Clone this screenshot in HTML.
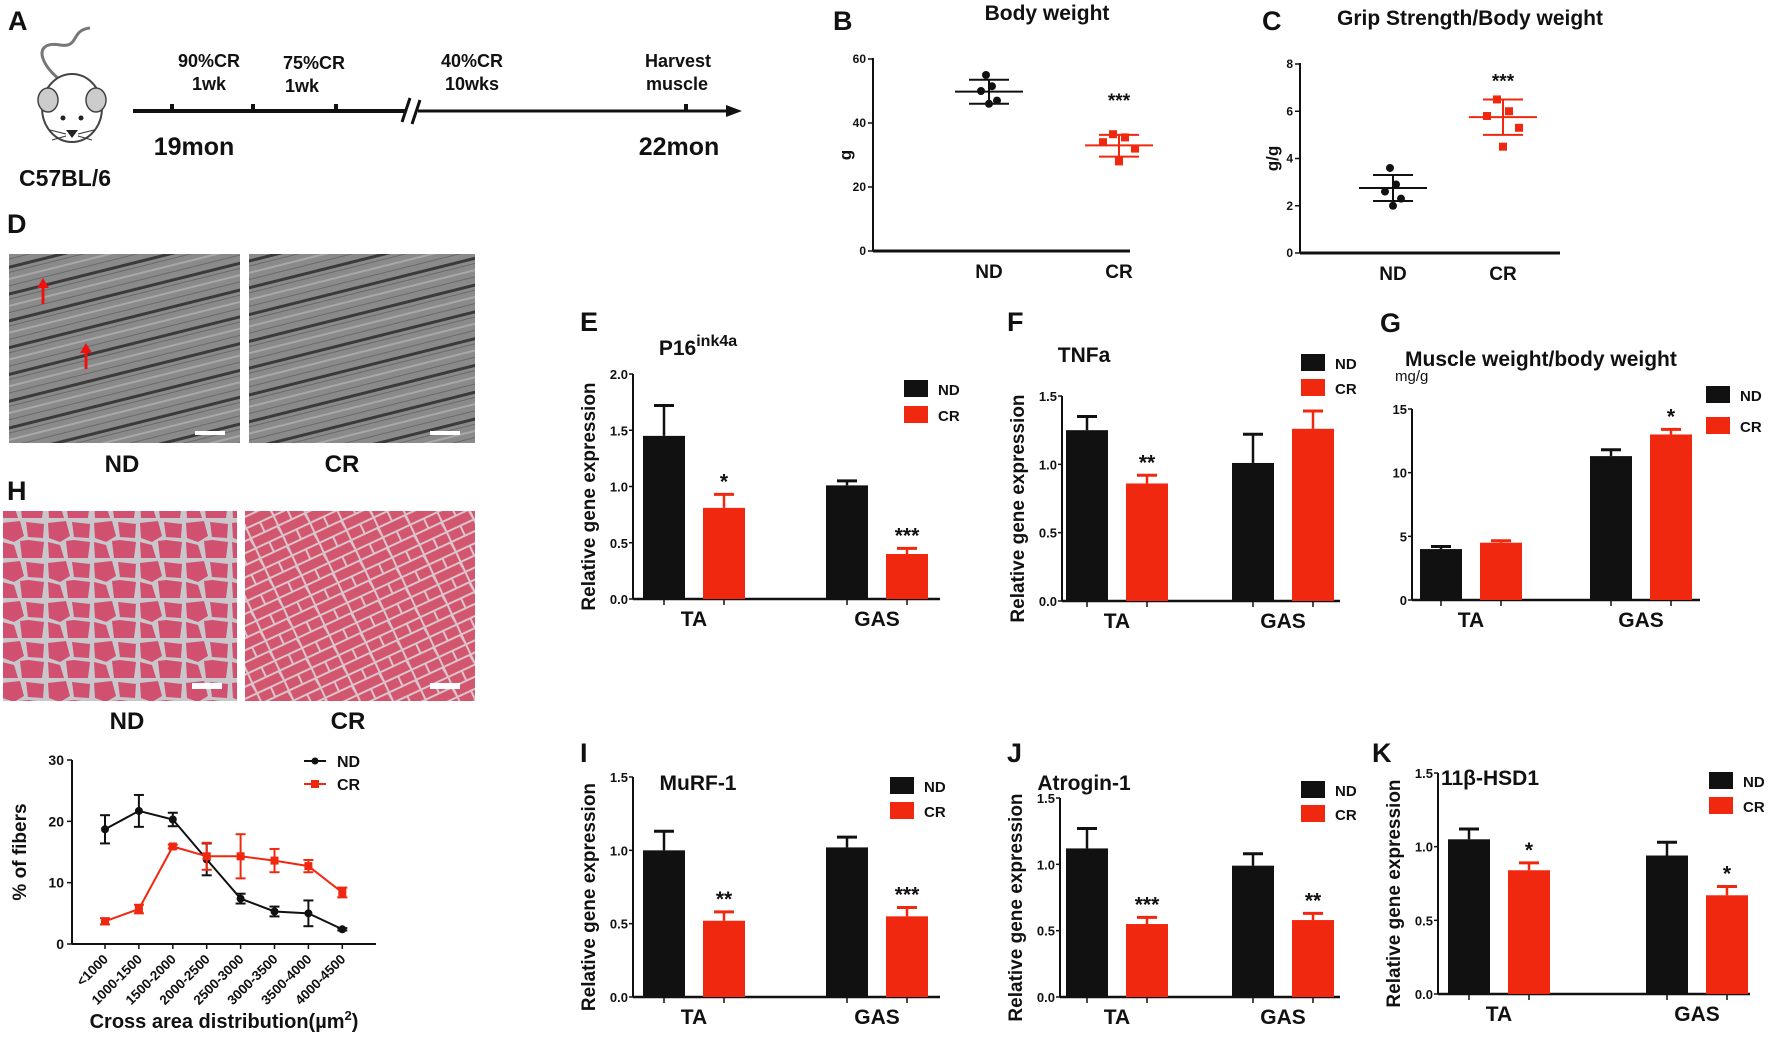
<!DOCTYPE html>
<html><head><meta charset="utf-8"><style>
body{margin:0;background:#fff}
svg{display:block;font-family:"Liberation Sans",sans-serif;font-weight:bold}
</style></head><body>
<svg id="fig" width="1772" height="1037" viewBox="0 0 1772 1037" xmlns="http://www.w3.org/2000/svg">
<defs>
<pattern id="em" patternUnits="userSpaceOnUse" width="40" height="26" patternTransform="rotate(-14)">
<rect width="40" height="26" fill="#8a8a8a"/>
<rect y="0" width="40" height="3" fill="#3a3a3a"/>
<rect y="12" width="40" height="2" fill="#a8a8a8"/>
<rect y="6" width="40" height="1" fill="#6a6a6a"/>
<rect y="19" width="40" height="1" fill="#6a6a6a"/>
</pattern>
<pattern id="he1" patternUnits="userSpaceOnUse" width="46" height="40">
<rect width="46" height="40" fill="#c9c6cc"/>
<path d="M2 3 L20 1 L24 16 L14 22 L3 18Z M26 2 L44 4 L43 18 L28 17Z M2 22 L14 25 L18 38 L3 38Z M20 21 L28 20 L44 22 L42 38 L22 38Z" fill="#d1506f"/>
</pattern>
<pattern id="he2" patternUnits="userSpaceOnUse" width="30" height="22" patternTransform="rotate(-25)">
<rect width="30" height="22" fill="#dcc4cc"/>
<path d="M1 1 L28 1 L29 10 L1 10Z M1 12 L14 12 L14 21 L1 21Z M16 12 L29 12 L29 21 L16 21Z" fill="#d3566f"/>
</pattern>
</defs>
<g id="root"></g>
</svg>
<script>
// ---- Panel B: body weight ----
const bwND = [55, 51.5, 50, 47, 46];
const bwCR = [36.5, 35.5, 34, 32, 28];
const bwStats = [[49.8, 53.5, 46.0], [33.0, 36.3, 29.5]];
// ---- Panel C: grip strength ----
const gsND = [3.6, 2.9, 2.6, 2.3, 2.0];
const gsCR = [6.5, 6.0, 5.8, 5.3, 4.5];
const gsStats = [[2.75, 3.3, 2.2], [5.75, 6.5, 5.0]];
// ---- Line chart (H) ----
const fiberCats = ["<1000","1000-1500","1500-2000","2000-2500","2500-3000","3000-3500","3500-4000","4000-4500"];
const fiberND = [18.7, 21.7, 20.3, 13.8, 7.4, 5.3, 5.0, 2.4];
const fiberNDerr = [2.3, 2.6, 1.1, 2.6, 0.8, 0.8, 2.1, 0.2];
const fiberCR = [3.7, 5.7, 15.9, 14.3, 14.3, 13.6, 12.7, 8.4];
const fiberCRerr = [0.5, 0.7, 0.3, 2.2, 3.6, 1.9, 1.0, 0.8];
const fiberTicks = [0, 10, 20, 30];
// ---- Bar charts ----
const barCats = ["TA", "GAS"];
const p16ND = [1.45, 1.01], p16NDerr = [0.27, 0.04], p16CR = [0.81, 0.40], p16CRerr = [0.12, 0.05];
const p16Sig = ["*", "***"];
const tnfND = [1.25, 1.01], tnfNDerr = [0.10, 0.21], tnfCR = [0.86, 1.26], tnfCRerr = [0.06, 0.13];
const tnfSig = ["**", ""];
const mwND = [4.0, 11.3], mwNDerr = [0.2, 0.5], mwCR = [4.5, 13.0], mwCRerr = [0.15, 0.4];
const mwSig = ["", "*"];
const murND = [1.0, 1.02], murNDerr = [0.13, 0.07], murCR = [0.52, 0.55], murCRerr = [0.06, 0.06];
const murSig = ["**", "***"];
const atrND = [1.12, 0.99], atrNDerr = [0.15, 0.09], atrCR = [0.55, 0.58], atrCRerr = [0.05, 0.05];
const atrSig = ["***", "**"];
const hsdND = [1.05, 0.94], hsdNDerr = [0.07, 0.09], hsdCR = [0.84, 0.67], hsdCRerr = [0.05, 0.06];
const hsdSig = ["*", "*"];

const NS = "http://www.w3.org/2000/svg";
const root = document.getElementById("root");
const RED = "#f0280f";
function mk(tag, attrs, parent, text) {
  const e = document.createElementNS(NS, tag);
  for (const k in attrs) e.setAttribute(k, attrs[k]);
  if (text !== undefined) e.textContent = text;
  (parent || root).appendChild(e);
  return e;
}
function txt(x, y, s, size, anchor, parent, extra) {
  const a = {x: x, y: y, "font-size": size, "text-anchor": anchor || "middle", fill: "#111"};
  if (extra) for (const k in extra) a[k] = extra[k];
  return mk("text", a, parent, s);
}
function label(x, y, s) {
  const t = txt(x, y, s, 27, "start");
  
  
}

// ===== Panel A =====
label(8, 30, "A");
const gA = mk("g", {});


mk("path", {d: "M72 88 C40 70 30 40 60 45 C80 48 70 30 90 28", fill: "none", stroke: "#777", "stroke-width": 3}, gA);
mk("ellipse", {cx: 72, cy: 108, rx: 30, ry: 34, fill: "#fff", stroke: "#444", "stroke-width": 2}, gA);
mk("ellipse", {cx: 48, cy: 100, rx: 10, ry: 12, fill: "#ccc", stroke: "#444", "stroke-width": 1.5}, gA);
mk("ellipse", {cx: 96, cy: 100, rx: 10, ry: 12, fill: "#ccc", stroke: "#444", "stroke-width": 1.5}, gA);
mk("circle", {cx: 63, cy: 118, r: 2.5, fill: "#222"}, gA);
mk("circle", {cx: 81, cy: 118, r: 2.5, fill: "#222"}, gA);
mk("path", {d: "M72 138 L66 130 L78 130Z", fill: "#222"}, gA);
mk("path", {d: "M50 130 L66 134 M52 140 L66 136 M94 130 L78 134 M92 140 L78 136", stroke: "#333", "stroke-width": 1}, gA);
txt(65, 186, "C57BL/6", 23, "middle", gA);
mk("line", {x1: 133, y1: 111, x2: 405, y2: 111, stroke: "#111", "stroke-width": 4}, gA);
mk("line", {x1: 418, y1: 111, x2: 728, y2: 111, stroke: "#111", "stroke-width": 3}, gA);
mk("path", {d: "M726 105 L742 111 L726 117Z", fill: "#111"}, gA);
mk("path", {d: "M402 122 L410 98 M412 124 L420 100", stroke: "#111", "stroke-width": 3}, gA);
[172, 253, 336, 686].forEach(x => mk("rect", {x: x - 2, y: 104, width: 4, height: 7, fill: "#111"}, gA));
txt(209, 67, "90%CR", 18, "middle", gA); txt(209, 90, "1wk", 18, "middle", gA);
txt(314, 69, "75%CR", 18, "middle", gA); txt(302, 92, "1wk", 18, "middle", gA);
txt(472, 67, "40%CR", 18, "middle", gA); txt(472, 90, "10wks", 18, "middle", gA);
txt(678, 67, "Harvest", 18, "middle", gA); txt(677, 90, "muscle", 18, "middle", gA);
txt(194, 155, "19mon", 25, "middle", gA);
txt(679, 155, "22mon", 25, "middle", gA);

// ===== Scatter panels B, C =====
function scatter(cfg) {
  const g = mk("g", {});
  
  
  const ys = v => cfg.y0 - (v / cfg.max) * (cfg.y0 - cfg.yTop);
  txt(cfg.titleX, cfg.titleY, cfg.title, 21, "middle", g);
  mk("line", {x1: cfg.ax, y1: cfg.yTop - 1, x2: cfg.ax, y2: cfg.y0, stroke: "#111", "stroke-width": 2}, g);
  mk("line", {x1: cfg.ax, y1: cfg.y0, x2: cfg.axEnd, y2: cfg.y0, stroke: "#111", "stroke-width": 3}, g);
  cfg.ticks.forEach(t => {
    mk("line", {x1: cfg.ax - 5, y1: ys(t), x2: cfg.ax, y2: ys(t), stroke: "#111", "stroke-width": 1.5}, g);
    txt(cfg.ax - 7, ys(t) + 4, String(t), 12, "end", g);
  });
  const yl = txt(cfg.ax - 22, (cfg.y0 + cfg.yTop) / 2, cfg.ylab, 17, "middle", g, {transform: `rotate(-90 ${cfg.ax - 22} ${(cfg.y0 + cfg.yTop) / 2})`});
  
  
  const groups = [[cfg.nd, "#111"], [cfg.cr, RED]];
  ["ND", "CR"].forEach((n, i) => {
    const cx = cfg.xs[i];
    const c = groups[i][1];
    const xl = txt(cx, cfg.y0 + 27, n, 19, "middle", g);
    
    
    const st = cfg.stats[i];
    mk("line", {x1: cx - 34, x2: cx + 34, y1: ys(st[0]), y2: ys(st[0]), stroke: c, "stroke-width": 2}, g);
    mk("line", {x1: cx - 20, x2: cx + 20, y1: ys(st[1]), y2: ys(st[1]), stroke: c, "stroke-width": 2}, g);
    mk("line", {x1: cx - 20, x2: cx + 20, y1: ys(st[2]), y2: ys(st[2]), stroke: c, "stroke-width": 2}, g);
    mk("line", {x1: cx, x2: cx, y1: ys(st[1]), y2: ys(st[2]), stroke: c, "stroke-width": 2}, g);
    const offs = [-3, 3, -8, 8, 0];
    groups[i][0].forEach((v, j) => {
      let p;
      if (i === 0) p = mk("circle", {cx: cx + offs[j], cy: ys(v), r: 4, fill: c}, g);
      else p = mk("rect", {x: cx + offs[j] * 2 - 4, y: ys(v) - 4, width: 8, height: 8, fill: c}, g);
      
      
    });
  });
  txt(cfg.xs[1], ys(cfg.sigY) , "***", 19, "middle", g);
}
label(833, 30, "B");
scatter({name: "body-weight-chart", title: "Body weight", titleX: 1047, titleY: 20, ax: 873, y0: 251, yTop: 59, max: 60, ticks: [0, 20, 40, 60],
  axEnd: 1130, xs: [989, 1119], nd: bwND, cr: bwCR, stats: bwStats, ylab: "g", sigY: 45});
label(1262, 30, "C");
scatter({name: "grip-strength-chart", title: "Grip Strength/Body weight", titleX: 1470, titleY: 25, ax: 1300, y0: 253, yTop: 64, max: 8, ticks: [0, 2, 4, 6, 8],
  axEnd: 1560, xs: [1393, 1503], nd: gsND, cr: gsCR, stats: gsStats, ylab: "g/g", sigY: 7.0});

// ===== Images D, H =====
function img(x, y, w, h, fill, name, sb) {
  const g = mk("g", {});
  
  
  mk("rect", {x: x, y: y, width: w, height: h, fill: fill}, g);
  mk("rect", {x: x + w - 45, y: y + h - (sb ? 18 : 12), width: 30, height: sb ? 6 : 4, fill: "#fff"}, g);
  return g;
}
label(7, 233, "D");
img(9, 254, 231, 189, "url(#em)", "em-image-nd");
img(249, 254, 226, 189, "url(#em)", "em-image-cr");
[[43, 280], [86, 345]].forEach(p => {
  const a = mk("g", {});
  
  
  mk("line", {x1: p[0], y1: p[1] + 24, x2: p[0], y2: p[1] + 6, stroke: "#e11", "stroke-width": 3}, a);
  mk("path", {d: `M${p[0] - 6} ${p[1] + 8} L${p[0]} ${p[1] - 2} L${p[0] + 6} ${p[1] + 8}Z`, fill: "#e11"}, a);
});
txt(122, 472, "ND", 24); txt(342, 472, "CR", 24);
label(7, 500, "H");
img(3, 511, 234, 190, "url(#he1)", "he-image-nd", true);
img(245, 511, 230, 190, "url(#he2)", "he-image-cr", true);
txt(127, 729, "ND", 24); txt(348, 729, "CR", 24);

// ===== Line chart =====
(function () {
  const g = mk("g", {});
  
  
  const ax = 72, y0 = 944, yTop = 760, axEnd = 376;
  const xs = i => 105 + i * 33.9;
  const ys = v => y0 - v / 30 * (y0 - yTop);
  mk("line", {x1: ax, y1: yTop, x2: ax, y2: y0, stroke: "#111", "stroke-width": 2}, g);
  mk("line", {x1: ax, y1: y0, x2: axEnd, y2: y0, stroke: "#111", "stroke-width": 2}, g);
  fiberTicks.forEach(t => {
    mk("line", {x1: ax - 5, x2: ax, y1: ys(t), y2: ys(t), stroke: "#111", "stroke-width": 1.5}, g);
    txt(ax - 8, ys(t) + 5, String(t), 14, "end", g);
  });
  fiberCats.forEach((c, i) => {
    mk("line", {x1: xs(i), x2: xs(i), y1: y0, y2: y0 + 5, stroke: "#111", "stroke-width": 1.5}, g);
    const t = txt(xs(i) + 4, y0 + 16, c, 13.5, "end", g, {transform: `rotate(-45 ${xs(i) + 4} ${y0 + 16})`});
    
    
  });
  const yl = txt(26, 852, "% of fibers", 19, "middle", g, {transform: "rotate(-90 26 852)"});
  
  
  const xt = mk("text", {x: 224, y: 1028, "font-size": 20, "text-anchor": "middle", fill: "#111"}, g);
  xt.innerHTML = 'Cross area distribution(µm<tspan font-size="13" dy="-8">2</tspan><tspan dy="8">)</tspan>';
  
  
  [[fiberND, fiberNDerr, "#111", "nd"], [fiberCR, fiberCRerr, RED, "cr"]].forEach(s => {
    const pts = s[0].map((v, i) => xs(i) + "," + ys(v)).join(" ");
    const pl = mk("polyline", {points: pts, fill: "none", stroke: s[2], "stroke-width": 2}, g);
    
    
    s[0].forEach((v, i) => {
      const x = xs(i);
      mk("line", {x1: x, x2: x, y1: ys(v + s[1][i]), y2: ys(v - s[1][i]), stroke: s[2], "stroke-width": 2}, g);
      mk("line", {x1: x - 5, x2: x + 5, y1: ys(v + s[1][i]), y2: ys(v + s[1][i]), stroke: s[2], "stroke-width": 2}, g);
      mk("line", {x1: x - 5, x2: x + 5, y1: ys(v - s[1][i]), y2: ys(v - s[1][i]), stroke: s[2], "stroke-width": 2}, g);
      let m;
      if (s[3] === "nd") m = mk("circle", {cx: x, cy: ys(v), r: 4, fill: s[2]}, g);
      else m = mk("rect", {x: x - 4, y: ys(v) - 4, width: 8, height: 8, fill: s[2]}, g);
      
      
    });
  });
  const lg = mk("g", {}, g);
  
  
  mk("line", {x1: 304, x2: 326, y1: 761, y2: 761, stroke: "#111", "stroke-width": 2}, lg);
  mk("circle", {cx: 315, cy: 761, r: 3.5, fill: "#111"}, lg);
  txt(337, 767, "ND", 16, "start", lg);
  mk("line", {x1: 304, x2: 326, y1: 784, y2: 784, stroke: RED, "stroke-width": 2}, lg);
  mk("rect", {x: 311, y: 780, width: 8, height: 8, fill: RED}, lg);
  txt(337, 790, "CR", 16, "start", lg);
})();

// ===== Bar charts =====
function bars(cfg) {
  const g = mk("g", {});
  
  
  const ys = v => cfg.y0 - v / cfg.max * (cfg.y0 - cfg.yTop);
  const t = mk("text", {x: cfg.titleX, y: cfg.titleY, "font-size": 21, "text-anchor": cfg.titleAnchor || "middle", fill: "#111"}, g);
  t.innerHTML = cfg.title;
  
  
  mk("line", {x1: cfg.ax, y1: cfg.yTop, x2: cfg.ax, y2: cfg.y0, stroke: "#111", "stroke-width": 2}, g);
  mk("line", {x1: cfg.ax, y1: cfg.y0, x2: cfg.axEnd, y2: cfg.y0, stroke: "#111", "stroke-width": 2.5}, g);
  cfg.ticks.forEach(v => {
    mk("line", {x1: cfg.ax - 4, x2: cfg.ax, y1: ys(v), y2: ys(v), stroke: "#111", "stroke-width": 1.5}, g);
    txt(cfg.ax - 5, ys(v) + 5, cfg.fmt(v), 13, "end", g);
  });
  if (cfg.ylab) {
    const cy = (cfg.y0 + cfg.yTop) / 2 + 10;
    const yl = txt(cfg.ax - 38, cy, cfg.ylab, 19, "middle", g, {transform: `rotate(-90 ${cfg.ax - 38} ${cy})`});
    
    
  }
  if (cfg.unit) txt(cfg.ax - 17, cfg.yTop - 28, cfg.unit, 15, "start", g, {"font-weight": "normal"});
  const series = [[cfg.nd, cfg.nderr, "#111", "nd"], [cfg.cr, cfg.crerr, RED, "cr"]];
  barCats.forEach((c, i) => {
    const gc = cfg.centers[i];
    [-1, 1].forEach(sg => mk("line", {x1: gc + sg * 30, x2: gc + sg * 30, y1: cfg.y0, y2: cfg.y0 + 6, stroke: "#111", "stroke-width": 1.5}, g));
    const cl = txt(gc, cfg.y0 + 27, c, 21, "middle", g);
    
    
    series.forEach((s, k) => {
      const cx = gc + (k === 0 ? -30 : 30);
      const v = s[0][i], e = s[1][i];
      mk("line", {x1: cx, x2: cx, y1: ys(v), y2: ys(v + e), stroke: s[2], "stroke-width": 2.5}, g);
      mk("line", {x1: cx - 10, x2: cx + 10, y1: ys(v + e), y2: ys(v + e), stroke: s[2], "stroke-width": 3}, g);
      const r = mk("rect", {x: cx - 21, y: ys(v), width: 42, height: cfg.y0 - ys(v), fill: s[2]}, g);
      
      
    });
    const sig = cfg.sig[i];
    if (sig) txt(gc + 30, ys(cfg.cr[i] + cfg.crerr[i]) - 6, sig, 21, "middle", g);
  });
  const lg = mk("g", {}, g);
  
  
  mk("rect", {x: cfg.lx, y: cfg.ly, width: 24, height: 17, fill: "#111"}, lg);
  txt(cfg.lx + 34, cfg.ly + 15, "ND", 15, "start", lg);
  mk("rect", {x: cfg.lx, y: cfg.ly + cfg.lgap, width: 24, height: 17, fill: RED}, lg);
  txt(cfg.lx + 34, cfg.ly + cfg.lgap + 15, "CR", 15, "start", lg);
}
const f1 = v => v.toFixed(1), f0 = v => String(v);
const RGE = "Relative gene expression";
label(580, 331, "E");
bars({name: "p16-chart", title: 'P16<tspan font-size="16" dy="-9">ink4a</tspan>', titleX: 698, titleY: 355, ax: 633, y0: 599, yTop: 374, max: 2, ticks: [0, 0.5, 1, 1.5, 2], fmt: f1,
  axEnd: 940, centers: [694, 877], nd: p16ND, nderr: p16NDerr, cr: p16CR, crerr: p16CRerr, sig: p16Sig, ylab: RGE, lx: 904, ly: 380, lgap: 26});
label(1007, 331, "F");
bars({name: "tnfa-chart", title: "TNFa", titleX: 1084, titleY: 362, ax: 1062, y0: 601, yTop: 396, max: 1.5, ticks: [0, 0.5, 1, 1.5], fmt: f1,
  axEnd: 1340, centers: [1117, 1283], nd: tnfND, nderr: tnfNDerr, cr: tnfCR, crerr: tnfCRerr, sig: tnfSig, ylab: RGE, lx: 1301, ly: 354, lgap: 25});
label(1380, 332, "G");
bars({name: "muscle-weight-chart", title: "Muscle weight/body weight", titleX: 1405, titleY: 366, titleAnchor: "start", ax: 1412, y0: 600, yTop: 409, max: 15, ticks: [0, 5, 10, 15], fmt: f0,
  axEnd: 1700, centers: [1471, 1641], nd: mwND, nderr: mwNDerr, cr: mwCR, crerr: mwCRerr, sig: mwSig, unit: "mg/g", lx: 1706, ly: 386, lgap: 31});
label(580, 762, "I");
bars({name: "murf1-chart", title: "MuRF-1", titleX: 698, titleY: 790, ax: 633, y0: 997, yTop: 777, max: 1.5, ticks: [0, 0.5, 1, 1.5], fmt: f1,
  axEnd: 940, centers: [694, 877], nd: murND, nderr: murNDerr, cr: murCR, crerr: murCRerr, sig: murSig, ylab: RGE, lx: 890, ly: 777, lgap: 25});
label(1007, 762, "J");
bars({name: "atrogin1-chart", title: "Atrogin-1", titleX: 1084, titleY: 790, ax: 1060, y0: 997, yTop: 798, max: 1.5, ticks: [0, 0.5, 1, 1.5], fmt: f1,
  axEnd: 1340, centers: [1117, 1283], nd: atrND, nderr: atrNDerr, cr: atrCR, crerr: atrCRerr, sig: atrSig, ylab: RGE, lx: 1301, ly: 781, lgap: 24});
label(1372, 762, "K");
bars({name: "hsd1-chart", title: "11β-HSD1", titleX: 1490, titleY: 785, ax: 1438, y0: 994, yTop: 773, max: 1.5, ticks: [0, 0.5, 1, 1.5], fmt: f1,
  axEnd: 1750, centers: [1499, 1697], nd: hsdND, nderr: hsdNDerr, cr: hsdCR, crerr: hsdCRerr, sig: hsdSig, ylab: RGE, lx: 1709, ly: 772, lgap: 25});
</script>
</body></html>
